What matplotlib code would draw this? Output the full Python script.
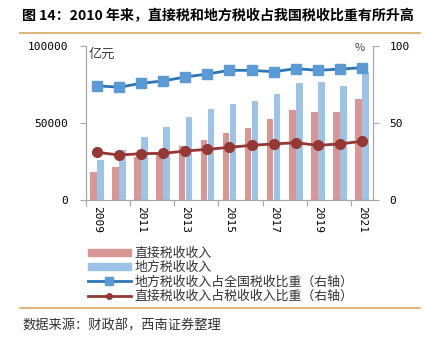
import matplotlib
matplotlib.use("Agg")
import matplotlib.pyplot as plt
import numpy as np
from matplotlib.lines import Line2D

plt.rcParams['font.family'] = ['Noto Sans CJK SC', 'DejaVu Sans']

years = [2009, 2010, 2011, 2012, 2013, 2014, 2015, 2016, 2017, 2018, 2019, 2020, 2021]
year_labels = ['2009', '2011', '2013', '2015', '2017', '2019', '2021']
direct_tax = [18400, 21600, 27700, 30300, 35000, 39000, 43300, 46500, 52800, 58400, 56900, 56900, 65400]
local_tax = [26000, 32500, 41100, 47200, 53700, 59100, 62300, 64500, 68600, 75700, 76300, 74000, 83300]
local_share = [74.2, 73.2, 75.8, 77.3, 79.9, 81.8, 84.2, 84.2, 83.3, 85.3, 84.2, 85.0, 85.9]
direct_share = [31.0, 29.2, 30.1, 30.3, 31.8, 32.9, 34.2, 35.5, 36.4, 37.2, 35.5, 36.4, 38.1]

names = ['直接税收收入', '地方税收收入', '地方税收收入占全国税收比重（右轴）', '直接税收收入占税收收入比重（右轴）']

c_red_bar = '#D99694'
c_blue_bar = '#9DC3E6'
c_blue_line = '#2E75B6'
c_blue_mk = '#5B9BD5'
c_red_line = '#953735'
grey = '#A6A6A6'
orange = '#D9A760'

W, H = 425, 337
fig = plt.figure(figsize=(W / 100, H / 100), dpi=100)

ax = fig.add_axes([86 / W, 1 - 200 / H, (373 - 86) / W, (200 - 46) / H])
x = np.arange(len(years))
bw = 0.3
ax.bar(x - bw / 2 - 0.01, direct_tax, bw, color=c_red_bar, zorder=2)
ax.bar(x + bw / 2 + 0.01, local_tax, bw, color=c_blue_bar, zorder=2)
ax.set_ylim(0, 100000)
ax.set_xlim(-0.5, len(years) - 0.5)
ax.set_yticks([0, 50000, 100000])
ax.set_yticklabels(['0', '50000', '100000'], family='DejaVu Sans Mono', fontsize=8)

ax.set_xticks(np.arange(-0.5, len(years), 2))
ax.set_xticklabels([])
ax.set_xticks(np.arange(0, len(years), 2), minor=True)
ax.set_xticklabels(year_labels, minor=True, rotation=-90, family='DejaVu Sans Mono', fontsize=8)
ax.tick_params(axis='x', which='minor', length=0, pad=4)
ax.tick_params(axis='x', which='major', length=4, color=grey, direction='out')
ax.tick_params(axis='y', length=4, color=grey, pad=9)

ax.spines['top'].set_visible(False)
for s in ['left', 'right', 'bottom']:
    ax.spines[s].set_color(grey)

ax2 = ax.twinx()
ax2.plot(x, local_share, color=c_blue_line, lw=2, marker='s', ms=7, mfc=c_blue_mk, mec=c_blue_mk, zorder=3)
ax2.plot(x, direct_share, color=c_red_line, lw=2, marker='o', ms=7, mfc=c_red_line, mec=c_red_line, zorder=3)
ax2.set_ylim(0, 100)
ax2.set_yticks([0, 50, 100])
ax2.set_yticklabels(['0', '50', '100'], family='DejaVu Sans Mono', fontsize=8)
ax2.tick_params(axis='y', length=4, color=grey, pad=8)
ax2.spines['top'].set_visible(False)
for s in ['left', 'right', 'bottom']:
    ax2.spines[s].set_color(grey)

fig.text(89 / W, 1 - 54 / H, '亿元', fontsize=9.5, color='#404040', va='center', ha='left')
fig.text(360 / W, 1 - 48 / H, '%', fontsize=8, color='#404040', va='center', ha='center')

fig.text(22 / W, 1 - 16 / H, '图 14：2010 年来，直接税和地方税收占我国税收比重有所升高',
         fontsize=10.1, fontweight='bold', va='center', ha='left')
fig.add_artist(Line2D([20 / W, 420 / W], [1 - 33 / H, 1 - 33 / H], color=orange, lw=1.2))
fig.add_artist(Line2D([20 / W, 420 / W], [1 - 308 / H, 1 - 308 / H], color=orange, lw=1.2))
fig.text(22 / W, 1 - 326 / H, '数据来源：财政部，西南证券整理', fontsize=9.5, style='italic',
         va='center', ha='left', color='#333333')

handles = [
    plt.Rectangle((0, 0), 1, 1, color=c_red_bar),
    plt.Rectangle((0, 0), 1, 1, color=c_blue_bar),
    Line2D([], [], color=c_blue_line, lw=2, marker='s', ms=6, mfc=c_blue_mk, mec=c_blue_mk),
    Line2D([], [], color=c_red_line, lw=2, marker='o', ms=4, mfc=c_red_line, mec=c_red_line),
]
leg = fig.legend(handles, names, loc='upper left', bbox_to_anchor=(88 / W, 1 - 247 / H),
                 frameon=False, fontsize=9.3, handlelength=3.3, handleheight=0.5,
                 labelspacing=0.1, handletextpad=0.3, borderaxespad=0, borderpad=0)
for t in leg.get_texts():
    t.set_color('#333333')

fig.savefig('out.png', dpi=100)
